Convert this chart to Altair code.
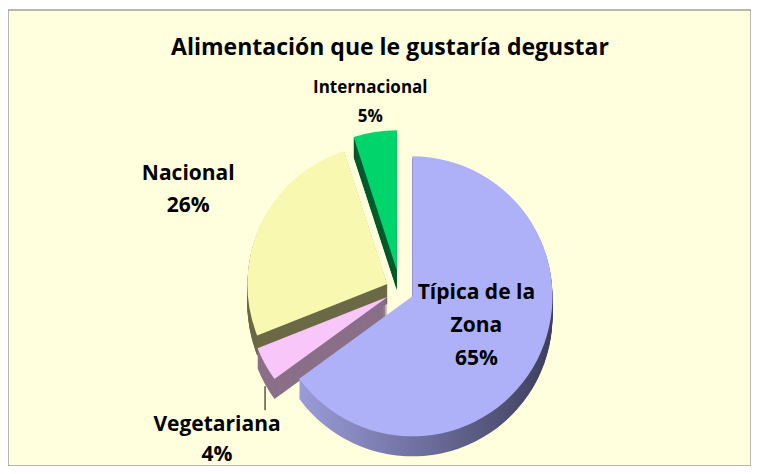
import math
import altair as alt
import pandas as pd

# ---- data -------------------------------------------------------------
title_text = "Alimentación que le gustaría degustar"
categories = ["Típica de la Zona", "Vegetariana", "Nacional", "Internacional"]
percentages = [65, 4, 26, 5]
labels = ["Típica de la\nZona\n65%", "Vegetariana\n4%", "Nacional\n26%", "Internacional\n5%"]

# ---- styles -----------------------------------------------------------
FONT = "Open Sans"
top_colors = {
    "Típica de la Zona": "#AEB0F8",
    "Vegetariana": "#F8C6F8",
    "Nacional": "#F8F8B0",
    "Internacional": "#00D46A",
}
side_colors = {
    "Típica de la Zona": alt.LinearGradient(
        gradient="linear",
        stops=[alt.GradientStop(offset=0, color="#9A9CDA"),
               alt.GradientStop(offset=1, color="#3E3F5C")],
        x1=0, x2=1, y1=0, y2=0),
    "Vegetariana": "#8A6F88",
    "Nacional": "#6A6A46",
    "Internacional": "#005A2C",
}
explode = {"Típica de la Zona": 14, "Vegetariana": 14, "Nacional": 14, "Internacional": 20}
paint_order = ["Internacional", "Nacional", "Vegetariana", "Típica de la Zona"]

CX, CY, R, DEPTH = 392, 280, 140, 20

df = pd.DataFrame({"cat": categories, "pct": percentages, "label": labels,
                   "order": list(range(len(categories)))})
total = sum(percentages)
theta_scale = alt.Scale(domain=[0, total], range=[0, 2 * math.pi])

# explosion offsets from each slice's mid angle
mids, cum = {}, 0
for c, p in zip(categories, percentages):
    mids[c] = (cum + p / 2) / total * 2 * math.pi
    cum += p
offsets = {c: (explode[c] * math.sin(mids[c]), -explode[c] * math.cos(mids[c])) for c in categories}


def base(cat):
    return (alt.Chart(df)
            .transform_window(cum="sum(pct)", sort=[alt.SortField("order")], frame=[None, 0])
            .transform_calculate(start="datum.cum - datum.pct", mid="datum.cum - datum.pct / 2")
            .transform_filter(alt.datum.cat == cat))


def arc_layer(cat, color, yshift):
    ox, oy = offsets[cat]
    return base(cat).mark_arc(radius=R, color=color, xOffset=ox, yOffset=oy + yshift).encode(
        theta=alt.Theta("start:Q", scale=theta_scale, stack=False),
        theta2="cum:Q",
        x=alt.value(CX), y=alt.value(CY))


layers = []
for cat in paint_order:
    for k in range(DEPTH, 0, -1):
        layers.append(arc_layer(cat, side_colors[cat], k))
    layers.append(arc_layer(cat, top_colors[cat], 0))


def label_layer(cat, radius, size, lh, lines, dx=0, dy=0):
    ox, oy = offsets[cat]
    return base(cat).mark_text(
        radius=radius, dx=dx + ox, dy=dy + oy - (lines - 1) * lh / 2,
        fontSize=size, lineHeight=lh, lineBreak="\n",
        font=FONT, fontWeight="bold", color="black", align="center", baseline="middle"
    ).encode(
        theta=alt.Theta("mid:Q", scale=theta_scale, stack=False),
        text="label:N",
        x=alt.value(CX), y=alt.value(CY))


layers.append(label_layer("Típica de la Zona", 65, 21, 33, 3, dx=6))
layers.append(label_layer("Nacional", 220, 21, 32, 2))
layers.append(label_layer("Internacional", 170, 17, 29, 2))
layers.append(label_layer("Vegetariana", R, 21, 30, 2, dx=-48, dy=76))

# leader line for Vegetariana
vm = mids["Vegetariana"]
vx = CX + offsets["Vegetariana"][0] + R * math.sin(vm)
vy = CY + offsets["Vegetariana"][1] - R * math.cos(vm) + DEPTH + 2
leader = alt.Chart(df.head(1)).mark_rule(color="black", strokeWidth=1).encode(
    x=alt.value(vx), y=alt.value(vy), y2=alt.value(vy + 24))
layers.append(leader)

title = alt.Chart(df.head(1)).mark_text(
    font=FONT, fontSize=23, fontWeight="bold", color="black", align="center", baseline="middle"
).encode(x=alt.value(382), y=alt.value(38), text=alt.value(title_text))
layers.append(title)

chart = alt.layer(*layers).properties(
    width=743, height=458,
    autosize=alt.AutoSizeParams(type="fit", contains="padding"),
    padding={"left": 0, "top": 2, "right": 0, "bottom": 0},
    background="white",
).configure_view(fill="#FFFFDD", stroke="#A0A0A0", strokeWidth=1.5)

chart.save("out.html", embed_options={"renderer": "svg", "actions": False})
